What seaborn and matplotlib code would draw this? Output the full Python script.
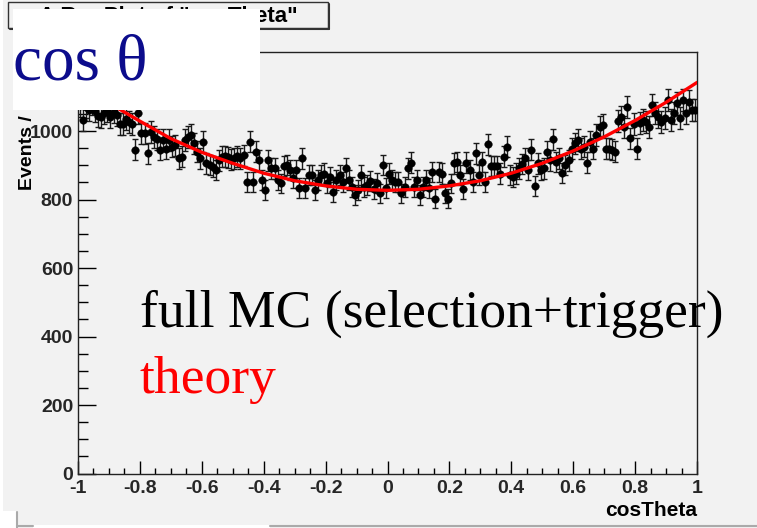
import numpy as np
import pandas as pd
import seaborn as sns
import matplotlib
matplotlib.use("Agg")
import matplotlib.pyplot as plt
from matplotlib.patches import Rectangle
from matplotlib.lines import Line2D
from matplotlib.ticker import MultipleLocator, FuncFormatter

# ---------------- data ----------------
bin_lo, bin_hi, n_bins = -1.0, 1.0, 200
counts = [
    1075, 1032, 1070, 1062, 1080, 1058, 1045, 1040, 1053, 1058,
    1042, 1055, 1048, 1022, 1022, 1035, 1027, 1022, 945, 1052,
    993, 993, 935, 998, 983, 976, 945, 974, 949, 974,
    954, 959, 920, 925, 974, 983, 988, 964, 940, 920,
    969, 906, 901, 896, 886, 915, 925, 927, 923, 917,
    920, 927, 920, 930, 852, 969, 852, 940, 915, 857,
    828, 915, 891, 891, 857, 847, 898, 901, 886, 862,
    886, 833, 920, 833, 871, 871, 828, 857, 871, 876,
    847, 867, 823, 857, 871, 852, 891, 857, 837, 813,
    828, 871, 837, 842, 855, 830, 848, 818, 901, 833,
    876, 857, 852, 852, 818, 837, 891, 908, 837, 857,
    813, 837, 857, 833, 881, 803, 881, 876, 818, 803,
    847, 906, 910, 871, 830, 908, 886, 852, 935, 871,
    910, 852, 961, 898, 898, 898, 876, 925, 954, 871,
    867, 876, 891, 904, 920, 886, 945, 839, 906, 886,
    891, 940, 915, 976, 910, 920, 878, 901, 915, 949,
    964, 974, 949, 954, 908, 969, 949, 988, 1013, 1018,
    949, 949, 945, 940, 1030, 1042, 1013, 1071, 979, 1022,
    949, 1024, 1032, 1027, 1013, 1076, 1052, 1042, 1027, 1037,
    1091, 1032, 1052, 1081, 1037, 1091, 1052, 1086, 1061, 1061,
]
theory_x = [-1.0, -0.9, -0.8, -0.7, -0.6, -0.5, -0.4, -0.3, -0.2, -0.1, 0.0,
            0.1, 0.2, 0.3, 0.4, 0.5, 0.6, 0.7, 0.8, 0.9, 1.0]
theory_y = [1142, 1082, 1029, 978, 938, 906, 877, 855, 840, 830, 827,
            830, 840, 855, 877, 906, 942, 983, 1031, 1084, 1142]

title_text = 'A RooPlot of "cosTheta"'
overlay_text = "cos \u03b8"
label_mc = "full MC (selection+trigger)"
label_theory = "theory"
x_label = "cosTheta"
y_label = "Events / ( 0.01 )"

# ---------------- figure ----------------
W, H = 757, 528
sns.set_theme(style="white")
plt.rcParams["font.family"] = ["Liberation Sans", "DejaVu Sans"]
BG = "#f2f2f2"
fig = plt.figure(figsize=(W / 100, H / 100), dpi=100, facecolor=BG)

def fx(px):
    return px / W

def fy(py):
    return 1 - py / H

ax_l, ax_r, ax_t, ax_b = 78, 697, 52, 473.5
ax = fig.add_axes([fx(ax_l), fy(ax_b), fx(ax_r - ax_l), (ax_b - ax_t) / H])
ax.set_facecolor(BG)

width = (bin_hi - bin_lo) / n_bins
centers = [bin_lo + width * (i + 0.5) for i in range(n_bins)]
df = pd.DataFrame({"x": centers, "y": counts})
df["err"] = np.sqrt(df["y"])
th = pd.DataFrame({"x": theory_x, "y": theory_y})

ax.errorbar(df["x"], df["y"], yerr=df["err"], fmt="none", ecolor="#1a1a1a",
            elinewidth=1.0, capsize=2.0, capthick=1.0, zorder=2)
sns.scatterplot(data=df, x="x", y="y", ax=ax, color="black", s=30,
                edgecolor="black", linewidth=0.3, zorder=3, legend=False)
sns.lineplot(data=th, x="x", y="y", ax=ax, color="#ff0000", linewidth=2.4,
             sort=False, estimator=None, zorder=4, legend=False)

ax.set_xlim(-1, 1)
ax.set_ylim(0, 1231)
ax.xaxis.set_major_locator(MultipleLocator(0.2))
ax.xaxis.set_minor_locator(MultipleLocator(0.05))
ax.yaxis.set_major_locator(MultipleLocator(200))
ax.yaxis.set_minor_locator(MultipleLocator(50))
ax.xaxis.set_major_formatter(FuncFormatter(lambda v, p: "%g" % round(v, 2)))
ax.yaxis.set_major_formatter(FuncFormatter(lambda v, p: "%d" % round(v)))

ax.tick_params(axis="x", which="major", direction="in", length=9.2, width=1,
               color="black", labelsize=14, pad=4.5, top=False, bottom=True)
ax.tick_params(axis="x", which="minor", direction="in", length=4.3, width=1,
               color="black", top=False, bottom=True)
ax.tick_params(axis="y", which="major", direction="in", length=13, width=1,
               color="black", labelsize=14, pad=3.5, left=True, right=False)
ax.tick_params(axis="y", which="minor", direction="in", length=7.2, width=1,
               color="black", left=True, right=False)
for lab in ax.get_xticklabels() + ax.get_yticklabels():
    lab.set_fontweight("bold")
ax.set_xlabel("")
ax.set_ylabel("")
for side in ["left", "bottom", "top", "right"]:
    ax.spines[side].set_visible(True)
    ax.spines[side].set_linewidth(1.0)
    ax.spines[side].set_color("#222222")

# axis titles
fig.text(fx(697), fy(511), x_label, ha="right", va="center", fontsize=15,
         fontweight="bold", color="black")
fig.text(fx(28), fy(190), y_label, ha="center", va="bottom", rotation=90,
         fontsize=14, fontweight="bold", color="black")

# title box
fig.add_artist(Rectangle((fx(8), fy(28)), fx(320), 26 / H, transform=fig.transFigure,
                         facecolor=BG, edgecolor="#333333", linewidth=1.0, zorder=5))
fig.add_artist(Line2D([fx(329), fx(329)], [fy(4), fy(29)], transform=fig.transFigure,
                      color="#333333", linewidth=1.5, zorder=5))
fig.add_artist(Line2D([fx(10), fx(329)], [fy(29), fy(29)], transform=fig.transFigure,
                      color="#333333", linewidth=1.5, zorder=5))
fig.text(fx(298), fy(16.5), title_text, ha="right", va="center", fontsize=16,
         fontweight="bold", color="black", zorder=6)

# white overlay with cos theta
fig.add_artist(Rectangle((fx(13), fy(110)), fx(247), 101 / H, transform=fig.transFigure,
                         facecolor="white", edgecolor="none", zorder=10))
fig.text(fx(13), fy(80), overlay_text, ha="left", va="baseline", fontsize=47,
         family=["Liberation Serif", "DejaVu Serif"], color="#0c0c8c", zorder=11)

# legend-like annotations
fig.text(fx(140), fy(327), label_mc, ha="left", va="baseline", fontsize=38.5,
         family=["Liberation Serif", "DejaVu Serif"], color="black", zorder=11)
fig.text(fx(140), fy(393), label_theory, ha="left", va="baseline", fontsize=38.5,
         family=["Liberation Serif", "DejaVu Serif"], color="#ff0000", zorder=11)

# page edge decorations
fig.add_artist(Rectangle((0, fy(511)), fx(3), 511 / H, transform=fig.transFigure,
                         facecolor="white", edgecolor="none", zorder=1))
fig.add_artist(Rectangle((0, 0), fx(17), 17 / H, transform=fig.transFigure,
                         facecolor="white", edgecolor="none", zorder=1))
fig.add_artist(Rectangle((fx(33), 0), fx(237), 3 / H, transform=fig.transFigure,
                         facecolor="white", edgecolor="none", zorder=1))
fig.add_artist(Line2D([fx(270), 1], [fy(526), fy(526)], transform=fig.transFigure,
                      color="#aaaaaa", linewidth=1.5, zorder=1))
fig.add_artist(Line2D([fx(17), fx(33)], [fy(526), fy(526)], transform=fig.transFigure,
                      color="#aaaaaa", linewidth=1.5, zorder=1))
fig.add_artist(Line2D([fx(17), fx(17)], [fy(512), 0], transform=fig.transFigure,
                      color="#aaaaaa", linewidth=1.5, zorder=1))

fig.savefig("out.png", dpi=100, facecolor=BG)
